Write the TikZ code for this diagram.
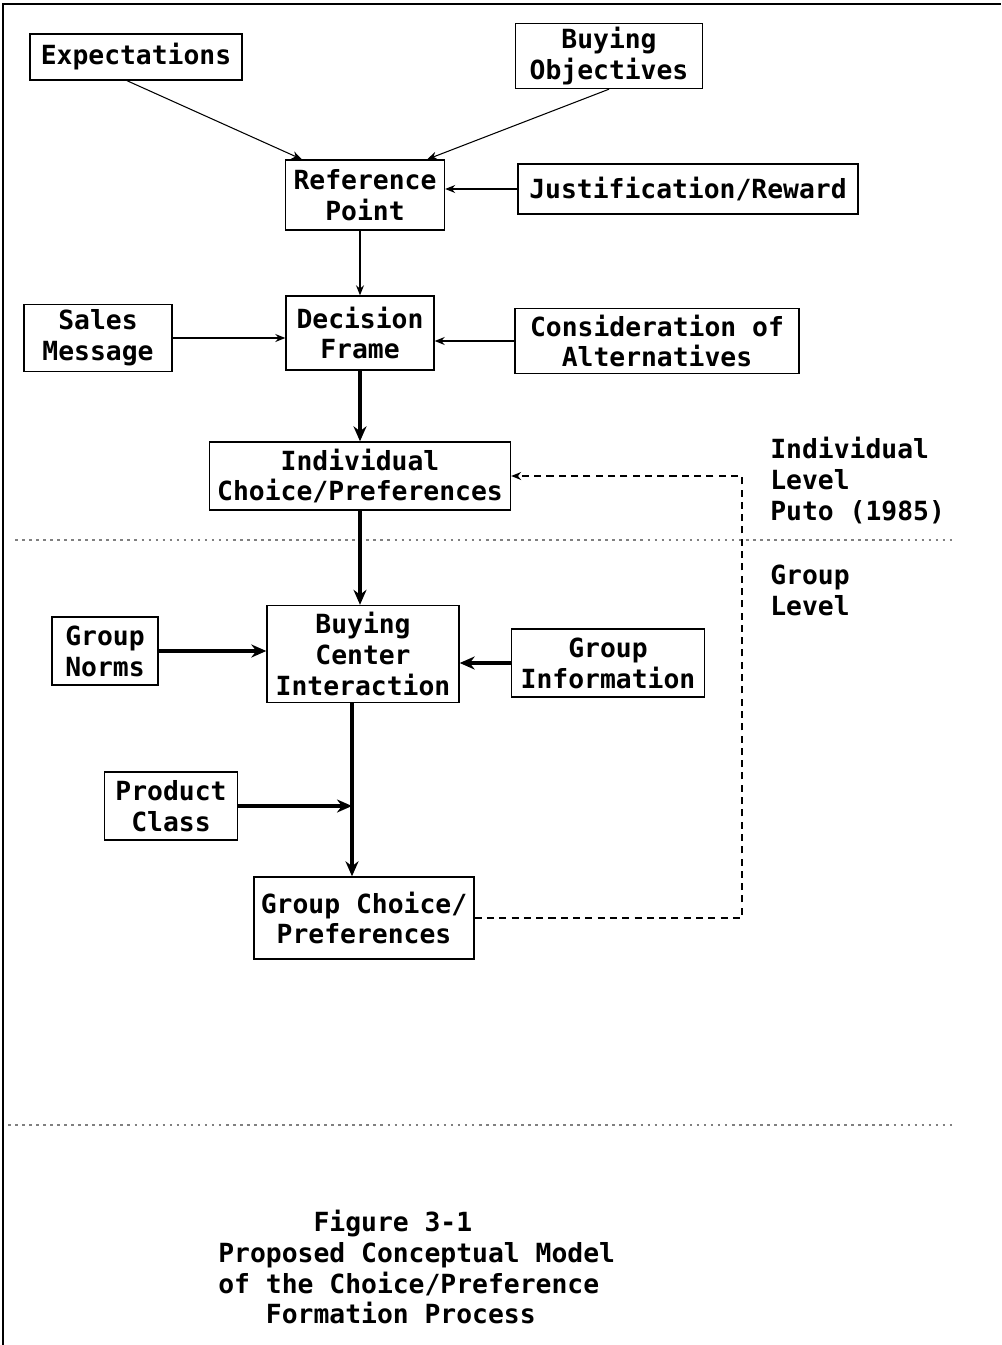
\documentclass[tikz,border=0pt]{standalone}
\usepackage{fontspec}
\setmonofont{DejaVu Sans Mono}
\usetikzlibrary{arrows.meta}

\tikzset{
  conbox/.style 2 args={draw, line width=0.8pt, minimum width=#1cm, minimum height=#2cm, inner sep=0pt, align=center},
  txt/.style={font=\ttfamily\bfseries\fontsize{15}{17.6}\selectfont},
  thinarrow/.style={-{Stealth[length=2mm,width=1.6mm]}, line width=0.6pt},
  thickarrow/.style={-{Stealth[length=3mm,width=2.6mm]}, line width=2.2pt},
  fbarrow/.style={-{Stealth[length=2mm,width=1.6mm]}, line width=0.7pt, dash pattern=on 4pt off 3pt},
  levelline/.style={gray, line width=0.6pt, dash pattern=on 1.5pt off 2.5pt}
}

\begin{document}
\begin{tikzpicture}[x=0.02cm, y=-0.02cm, txt]
\useasboundingbox (0,0) rectangle (1001,1345);
\draw[line width=1.4pt] (3,1345) -- (3,4) -- (1001,4);

\node[conbox={4.24}{0.92}] (expect) at (136,57) {Expectations};
\node[conbox={3.74}{1.30}] (buyobj) at (609,56) {Buying\\Objectives};
\node[conbox={3.18}{1.40}] (refpt) at (365,195) {Reference\\Point};
\node[conbox={6.80}{1.00}] (justif) at (688,189) {Justification/Reward};
\node[conbox={2.96}{1.34}] (sales) at (98,338) {Sales\\Message};
\node[conbox={2.96}{1.48}] (decframe) at (360,333) {Decision\\Frame};
\node[conbox={5.68}{1.30}] (consider) at (657,341) {Consideration of\\Alternatives};
\node[conbox={6.02}{1.36}] (indiv) at (360,476) {Individual\\Choice/Preferences};
\node[conbox={2.12}{1.36}, align=left] (grpnorms) at (105,651) {Group\\Norms};
\node[conbox={3.84}{1.94}] (bcenter) at (363,654) {Buying\\Center\\Interaction};
\node[conbox={3.86}{1.36}] (grpinfo) at (608,663) {Group\\Information};
\node[conbox={2.66}{1.36}] (prodclass) at (171,806) {Product\\Class};
\node[conbox={4.40}{1.64}] (grpchoice) at (364,918) {Group Choice/\\Preferences};

% levels
\draw[levelline] (15,540) -- (955,540);
\draw[levelline] (8,1125) -- (955,1125);
\node[anchor=north west, align=left, inner sep=0pt] (indlevel) at (770,437) {Individual\\Level\\Puto (1985)};
\node[anchor=north west, align=left, inner sep=0pt] (grplevel) at (770,565) {Group\\Level};

\draw[thinarrow] ([xshift=-0.18cm]expect.south) -- ([xshift=0.34cm]refpt.north west);
\draw[thinarrow] (buyobj.south) -- ([xshift=-0.36cm]refpt.north east);
\draw[thinarrow] (justif.west) -- (justif.west -| refpt.east);
\draw[thinarrow] (decframe.north |- refpt.south) -- (decframe.north);
\draw[thinarrow] (sales.east) -- (sales.east -| decframe.west);
\draw[thinarrow] (consider.west) -- (consider.west -| decframe.east);

\draw[thickarrow] (decframe.south) -- (decframe.south |- indiv.north);
\draw[thickarrow] (indiv.south) -- (indiv.south |- bcenter.north);
\draw[thickarrow] (grpnorms.east) -- (grpnorms.east -| bcenter.west);
\draw[thickarrow] (grpinfo.west) -- (grpinfo.west -| bcenter.east);
\coordinate (bcline) at ([xshift=-0.22cm]bcenter.south);
\draw[thickarrow, line width=1.8pt] (bcline) -- (bcline |- grpchoice.north);
\draw[thickarrow] (prodclass.east) -- (prodclass.east -| bcline);

% feedback
\coordinate (fb) at (742,0);
\draw[fbarrow] (grpchoice.east) -- (grpchoice.east -| fb) |- (indiv.east);

\node[anchor=west, align=left, inner sep=0pt] (caption) at (218,1267) {\phantom{xxxxxx}Figure 3-1\\Proposed Conceptual Model\\of the Choice/Preference\\\phantom{xxx}Formation Process};
\end{tikzpicture}
\end{document}
